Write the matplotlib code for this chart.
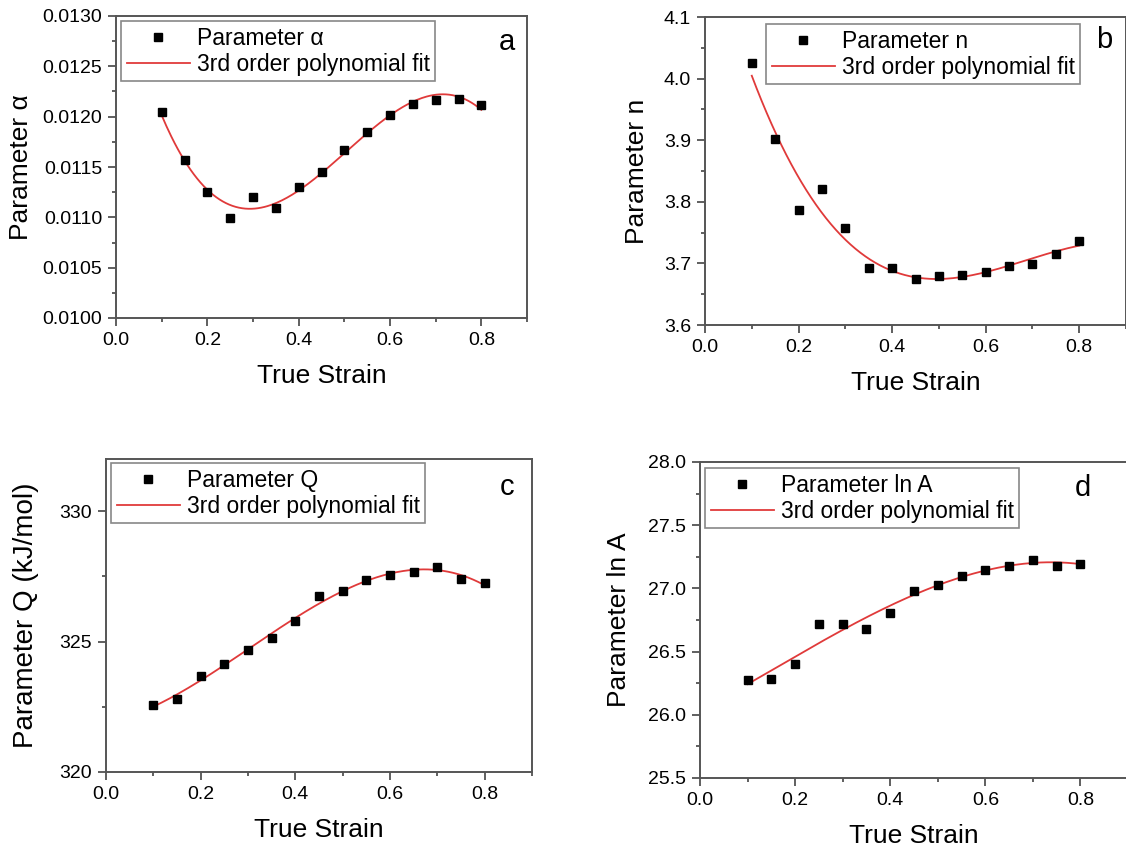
import numpy as np
import matplotlib
matplotlib.use("Agg")
import matplotlib.pyplot as plt
from matplotlib.ticker import MultipleLocator, FormatStrFormatter

plt.rcParams['font.family'] = ['Liberation Sans', 'DejaVu Sans']

strain = [0.10, 0.15, 0.20, 0.25, 0.30, 0.35, 0.40, 0.45,
          0.50, 0.55, 0.60, 0.65, 0.70, 0.75, 0.80]

alpha = [0.01205, 0.011565, 0.011247, 0.010996, 0.011204, 0.011095, 0.011303,
         0.011452, 0.011664, 0.011852, 0.012014, 0.012123, 0.012166, 0.01218,
         0.012114]
n_vals = [4.0246, 3.902, 3.7875, 3.820, 3.758, 3.692, 3.692, 3.674,
          3.679, 3.681, 3.686, 3.696, 3.699, 3.715, 3.737]
q_vals = [322.56, 322.80, 323.69, 324.13, 324.69, 325.15, 325.77, 326.75,
          326.93, 327.35, 327.57, 327.66, 327.87, 327.39, 327.24]
lna = [26.275, 26.283, 26.40, 26.717, 26.722, 26.68, 26.807, 26.976,
       27.026, 27.10, 27.148, 27.175, 27.228, 27.18, 27.196]

W, H = 1126, 852
fig = plt.figure(figsize=(W / 100, H / 100), dpi=100)


def px_axes(x0, x1, y0, y1):
    return fig.add_axes([x0 / W, 1 - y1 / H, (x1 - x0) / W, (y1 - y0) / H])


panels = [
    # values, ylabel, legend name, ylim, major, minor, fmt, axes px, legend px, letter, letter px, ylabel size, ylabel pad
    (alpha, u'Parameter \u03b1', u'Parameter \u03b1', (0.0100, 0.0130), 0.0005, 0.00025, '%.4f',
     (116, 527, 16, 318), (121, 21), 'a', (507, 42), 19, 7),
    (n_vals, 'Parameter n', 'Parameter n', (3.6, 4.1), 0.1, 0.05, '%.1f',
     (705, 1126, 17, 325), (766, 24), 'b', (1104, 40), 19, 11),
    (q_vals, 'Parameter Q (kJ/mol)', 'Parameter Q', (320, 332), 5, 2.5, '%d',
     (106, 532, 459, 772), (111, 463), 'c', (507, 487), 20, 15),
    (lna, 'Parameter ln A', 'Parameter ln A', (25.5, 28.0), 0.5, 0.25, '%.1f',
     (700, 1128, 462, 778), (705, 468), 'd', (1083, 488), 19, 12),
]

for vals, ylab, name, ylim, major, minor, fmt, box, leg, letter, lpos, ysize, ypad in panels:
    ax = px_axes(*box)
    x = np.array(strain)
    y = np.array(vals)
    coef = np.polyfit(x, y, 3)
    xf = np.linspace(0.1, 0.8, 200)
    ax.plot(x, y, 's', color='black', markersize=5.5, label=name, zorder=3)
    ax.plot(xf, np.polyval(coef, xf), '-', color='#e03a3a', lw=1.3,
            label='3rd order polynomial fit', zorder=2)
    ax.set_xlim(0, 0.9)
    ax.set_ylim(*ylim)
    ax.xaxis.set_major_locator(MultipleLocator(0.2))
    ax.xaxis.set_minor_locator(MultipleLocator(0.1))
    ax.xaxis.set_major_formatter(FormatStrFormatter('%.1f'))
    ax.yaxis.set_major_locator(MultipleLocator(major))
    ax.yaxis.set_minor_locator(MultipleLocator(minor))
    ax.yaxis.set_major_formatter(FormatStrFormatter(fmt))
    ax.tick_params(which='both', direction='out', top=False, right=False,
                   color='#444444', width=1.2)
    ax.tick_params(which='major', length=6, labelsize=14, pad=4)
    ax.tick_params(which='minor', length=3)
    for s in ax.spines.values():
        s.set_color('#555555')
        s.set_linewidth(1.4)
    ax.set_xlabel('True Strain', fontsize=19, labelpad=11)
    ax.set_ylabel(ylab, fontsize=ysize, labelpad=ypad)

    lx = (leg[0] - box[0]) / (box[1] - box[0])
    ly = 1 - (leg[1] - box[2]) / (box[3] - box[2])
    lg = ax.legend(loc='upper left', bbox_to_anchor=(lx, ly), borderaxespad=0,
                   fontsize=16.5, fancybox=False, edgecolor='#888888', framealpha=1,
                   handlelength=2.75, handletextpad=0.3, borderpad=0.25,
                   labelspacing=0.13)
    lg.get_frame().set_linewidth(1.2)

    fig.text(lpos[0] / W, 1 - lpos[1] / H, letter, fontsize=21,
             ha='center', va='center')

fig.savefig('out.png', dpi=100)
